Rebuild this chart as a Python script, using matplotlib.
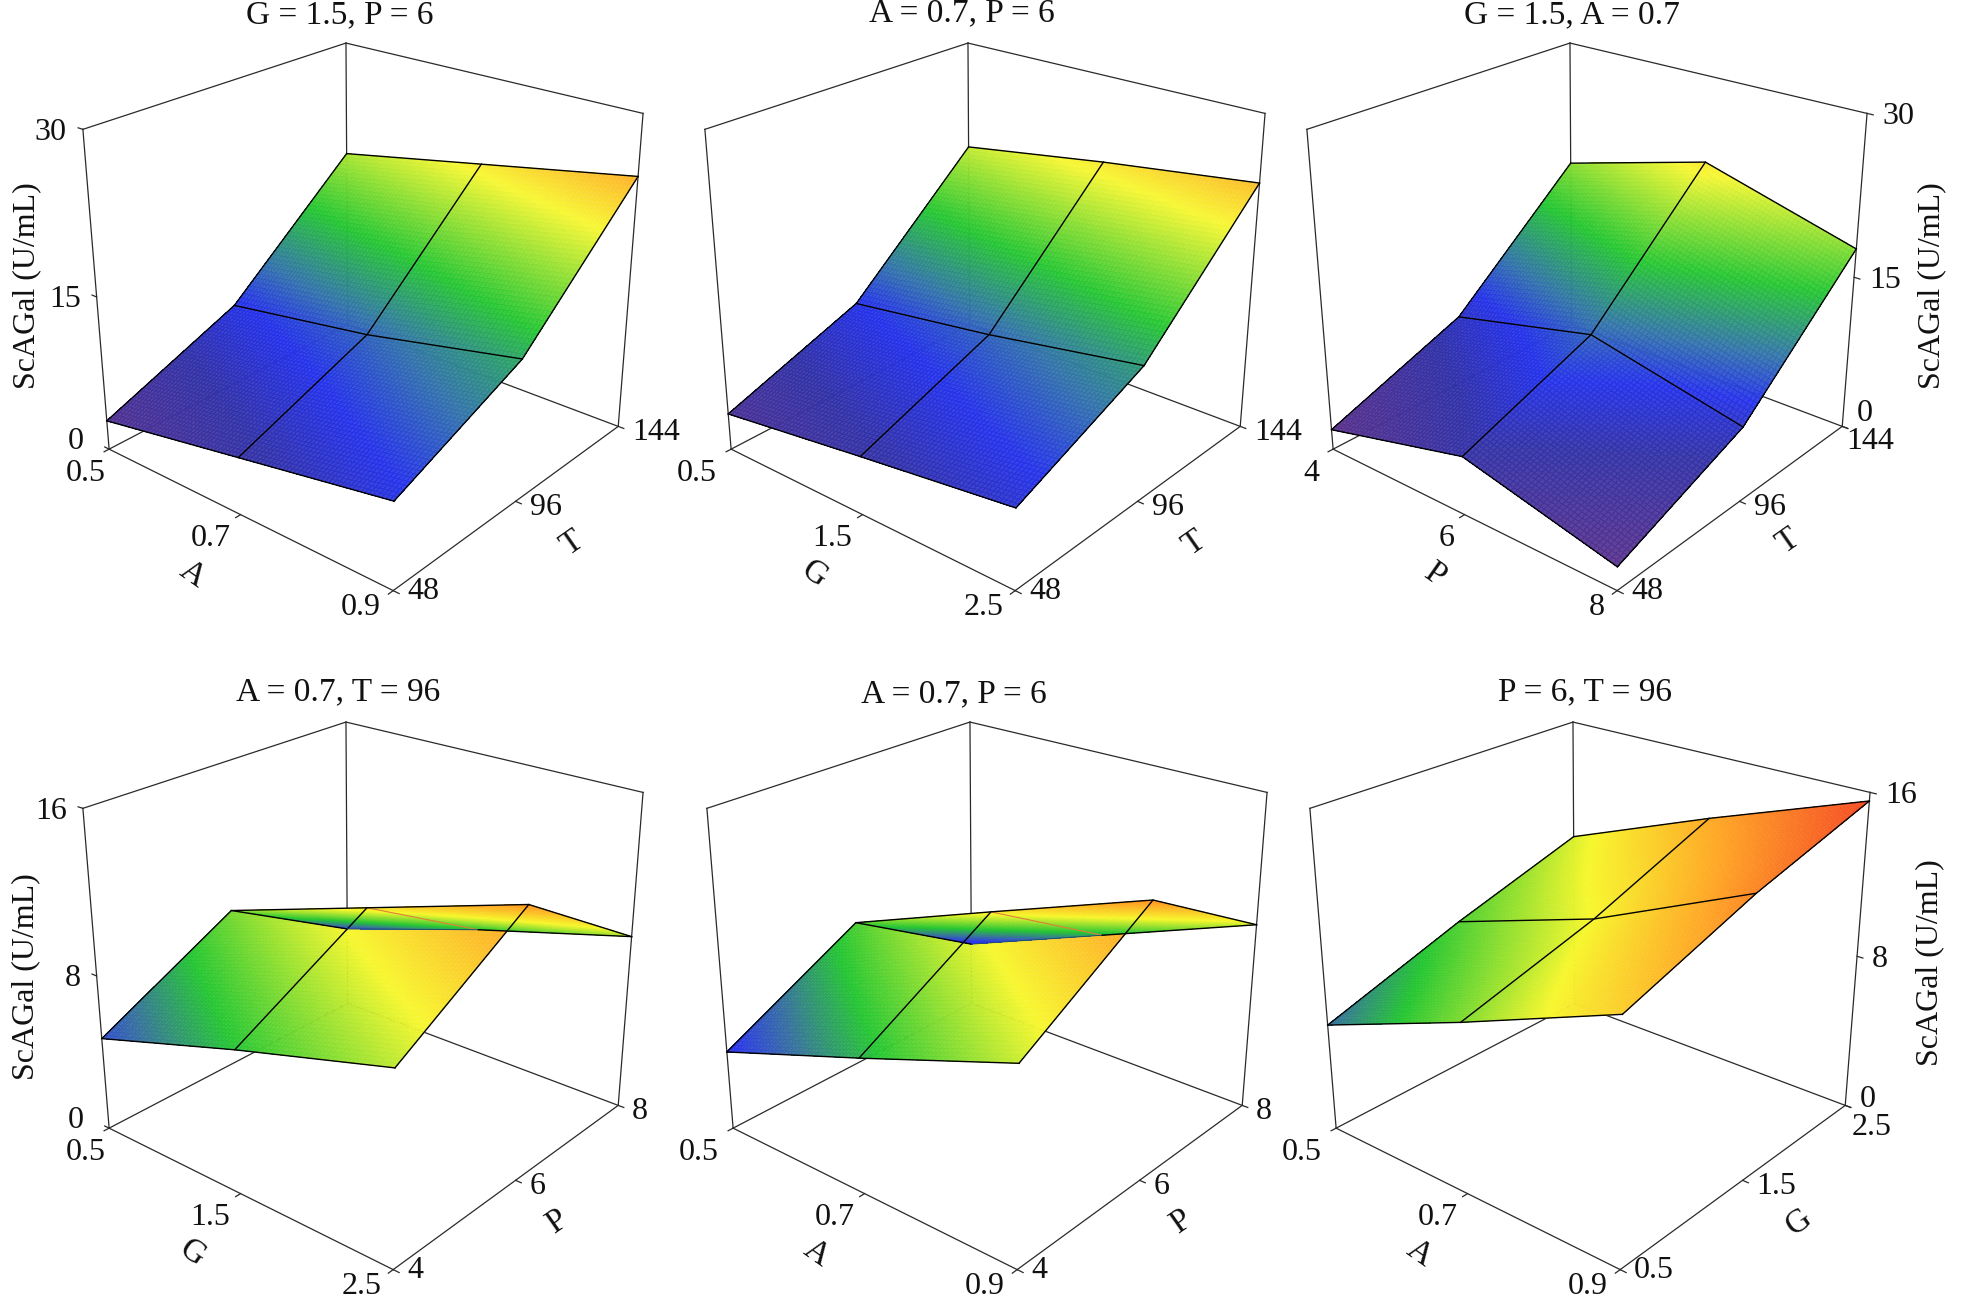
import numpy as np
import matplotlib
matplotlib.use("Agg")
import matplotlib.pyplot as plt
from matplotlib.colors import LinearSegmentedColormap, Normalize
from mpl_toolkits.mplot3d import proj3d

plt.rcParams['font.family'] = ['Liberation Serif', 'DejaVu Serif']

A_TICKS = [0.5, 0.7, 0.9]
G_TICKS = [0.5, 1.5, 2.5]
P_TICKS = [4, 6, 8]
T_TICKS = [48, 96, 144]
YLABEL = 'ScAGal (U/mL)'

# Surfaces: rows follow the first factor, columns follow the second factor
Z_A_T = [[2.9, 8.2, 18.8], [5.5, 10.4, 21.6], [8.1, 13.5, 24.4]]
Z_G_T = [[3.6, 8.4, 19.5], [5.6, 10.4, 21.8], [7.5, 12.9, 23.8]]
Z_P_T = [[2.0, 7.0, 17.8], [5.6, 10.4, 21.8], [2.2, 7.2, 17.7]]
Z_G_P = [[4.8, 8.4, 4.5], [7.2, 10.9, 6.9], [9.4, 13.4, 9.0]]
Z_A_P = [[4.1, 7.75, 3.6], [6.8, 10.7, 6.6], [9.6, 13.6, 9.6]]
Z_A_G = [[5.5, 7.8, 9.8], [8.5, 10.35, 12.8], [11.7, 13.9, 15.6]]

ZT_TOP = [0, 15, 30]
ZT_BOT = [0, 8, 16]

STOPS_TOP = [2.0, 6.0, 8.5, 11.0, 15.0, 21.0, 25.0, 30.0]
COLS_TOP = [(.36, .20, .55), (.20, .20, .66), (.15, .20, .92), (.20, .45, .68),
            (.15, .78, .20), (.97, .97, .20), (1.0, .65, .15), (.95, .25, .15)]
STOPS_BOT = [4.2, 5.6, 7.2, 10.3, 13.0, 15.8]
COLS_BOT = [(.17, .20, .95), (.22, .45, .62), (.15, .78, .20), (.97, .97, .18),
            (1.0, .65, .15), (.96, .28, .15)]


def make_cmap(stops, cols):
    lo, hi = stops[0], stops[-1]
    pos = [(s - lo) / (hi - lo) for s in stops]
    return LinearSegmentedColormap.from_list('c', list(zip(pos, cols)), N=512), Normalize(lo, hi)


W, H = 1961, 1297
fig = plt.figure(figsize=(W / 100, H / 100), dpi=100, facecolor='white')
SIZE = 620
FS_TICK, FS_TITLE, FS_LAB, FS_LET = 23, 24, 23, 24
LINE = '#2a2a2a'


def refine(Z, n):
    Z = np.asarray(Z, float)
    idx = np.linspace(0, 2, 2 * n + 1)
    t = np.array([np.interp(idx, [0, 1, 2], Z[:, j]) for j in range(3)]).T
    return np.array([np.interp(idx, [0, 1, 2], row) for row in t])


def panel(cx, cy, xt, yt, zt, Z, xname, yname, title, title_xy, stops, cols,
          zright=False, first_dx=-14, ylabel_xy=None, xl_off=(-48, 60), yl_off=(56, 42),
          last_off=(14, 6), zero_dy=-13, fold=False, zlabels=True):
    ax = fig.add_axes([(cx - .5135 * SIZE) / W, (H - cy - .5135 * SIZE) / H, SIZE / W, SIZE / H],
                      projection='3d', computed_zorder=False)
    ax.patch.set_alpha(0)
    ax.set_proj_type('persp', focal_length=0.46)
    ax.view_init(elev=25, azim=-50)
    ax.set_box_aspect((1, 1, .92))
    x0, x1 = xt[0], xt[-1]
    y0, y1 = yt[0], yt[-1]
    z0, z1 = zt[0], zt[-1]
    ax.set_xlim(x0, x1)
    ax.set_ylim(y0, y1)
    ax.set_zlim(z0, z1)
    ax.set_axis_off()

    edges = [((x0, x1), (y0, y0), (z0, z0)), ((x1, x1), (y0, y1), (z0, z0)),
             ((x0, x0), (y0, y1), (z0, z0)), ((x0, x1), (y1, y1), (z0, z0)),
             ((x0, x0), (y1, y1), (z0, z1)), ((x0, x0), (y0, y0), (z0, z1)),
             ((x1, x1), (y1, y1), (z0, z1)), ((x0, x0), (y0, y1), (z1, z1)),
             ((x0, x1), (y1, y1), (z1, z1))]
    for ex, ey, ez in edges:
        ax.plot(ex, ey, ez, color=LINE, lw=0.9, zorder=1)

    dx, dy = (x1 - x0) * .018, (y1 - y0) * .018
    for v in xt:
        ax.plot([v, v], [y0, y0 - dy], [z0, z0], color=LINE, lw=0.9, zorder=1, clip_on=False)
    for v in yt:
        ax.plot([x1, x1 + dx], [v, v], [z0, z0], color=LINE, lw=0.9, zorder=1, clip_on=False)
    if zlabels:
        for v in zt:
            if zright:
                ax.plot([x1, x1 + dx], [y1, y1], [v, v], color=LINE, lw=0.9, zorder=1)
            else:
                ax.plot([x0 - dx, x0], [y0, y0], [v, v], color=LINE, lw=0.9, zorder=1)

    n = 40
    Zf = refine(Z, n)
    xf = np.interp(np.linspace(0, 2, 2 * n + 1), [0, 1, 2], xt)
    yf = np.interp(np.linspace(0, 2, 2 * n + 1), [0, 1, 2], yt)
    X, Y = np.meshgrid(xf, yf, indexing='ij')
    cmap, norm = make_cmap(stops, cols)
    Zc = (Zf[:-1, :-1] + Zf[1:, :-1] + Zf[:-1, 1:] + Zf[1:, 1:]) / 4
    fc = cmap(norm(Zc))
    fc[..., 3] = 0.93
    # the far half of the surface is painted after the near half, as in the original renderer
    ax.plot_surface(X[:, :n + 1], Y[:, :n + 1], Zf[:, :n + 1], rstride=1, cstride=1,
                    facecolors=fc[:, :n], shade=False, linewidth=0, antialiased=False, zorder=2)
    ax.plot_surface(X[:, n:], Y[:, n:], Zf[:, n:], rstride=1, cstride=1,
                    facecolors=fc[:, n:], shade=False, linewidth=0, antialiased=False, zorder=2.1)

    Zg = np.asarray(Z, float)
    for i in range(3):
        if fold and i == 1:
            ax.plot([xt[1]] * 2, yt[:2], Zg[1, :2], color='black', lw=1.0, zorder=3)
            ax.plot([xt[1]] * 2, yt[1:], Zg[1, 1:], color='#e0803a', lw=0.8, zorder=3)
        else:
            ax.plot([xt[i]] * 3, yt, Zg[i, :], color='black', lw=1.0, zorder=3)
        if fold and i == 2:
            ax.plot(xt[:2], [yt[2]] * 2, Zg[:2, 2], color='#1f4f6a', lw=0.7, zorder=3)
            ax.plot(xt[1:], [yt[2]] * 2, Zg[1:, 2], color='black', lw=1.0, zorder=3)
        else:
            ax.plot(xt, [yt[i]] * 3, Zg[:, i], color='black', lw=1.0, zorder=3)

    M = ax.get_proj()

    def label(x, y, z, s, ox, oy, ha='center', rot=0, fs=FS_TICK):
        px, py, _ = proj3d.proj_transform(x, y, z, M)
        ax.annotate(s, xy=(px, py), xycoords='data', xytext=(ox, -oy), textcoords='offset pixels',
                    ha=ha, va='center', fontsize=fs, rotation=rot, annotation_clip=False,
                    color='#111111', rotation_mode='anchor')

    for k, v in enumerate(xt):
        ox = first_dx if k == 0 else (-10 if k == 1 else -12)
        label(v, y0, z0, f'{v:g}', ox, 24 if k < 2 else 17, ha='right')
    for k, v in enumerate(yt):
        ox, oy = last_off if k == 2 else (14, 6 if k else 1)
        label(x1, v, z0, f'{v:g}', ox, oy, ha='left')
    if zlabels:
        for k, v in enumerate(zt):
            if zright:
                oy = zero_dy if k == 0 else 3
                label(x1, y1, v, f'{v:g}', 15, oy, ha='left')
            else:
                oy = -8 if k == 0 else 3
                label(x0, y0, v, f'{v:g}', -16 if k else -25, oy, ha='right')
    label(xt[1], y0, z0, xname, xl_off[0], xl_off[1], rot=-35, fs=FS_LET)
    label(x1, yt[1], z0, yname, yl_off[0], yl_off[1], rot=35, fs=FS_LET)

    fig.text(title_xy[0] / W, 1 - title_xy[1] / H, title, ha='center', va='center',
             fontsize=FS_TITLE, color='#111111')
    if ylabel_xy:
        fig.text(ylabel_xy[0] / W, 1 - ylabel_xy[1] / H, YLABEL, ha='center', va='center',
                 rotation=90, fontsize=FS_LAB, color='#111111')


CY_TOP, CY_BOT = 287, 966
panel(367, CY_TOP, A_TICKS, T_TICKS, ZT_TOP, Z_A_T, 'A', 'T', 'G = 1.5, P = 6', (340, 15),
      STOPS_TOP, COLS_TOP, first_dx=-3, ylabel_xy=(27, 286))
panel(989, CY_TOP, G_TICKS, T_TICKS, ZT_TOP, Z_G_T, 'G', 'T', 'A = 0.7, P = 6', (962, 13),
      STOPS_TOP, COLS_TOP, zlabels=False)
panel(1591, CY_TOP, P_TICKS, T_TICKS, ZT_TOP, Z_P_T, 'P', 'T', 'G = 1.5, A = 0.7', (1572, 15),
      STOPS_TOP, COLS_TOP, zright=True, ylabel_xy=(1932, 286), xl_off=(-30, 60), yl_off=(48, 40),
      last_off=(4, 15), zero_dy=-13)
panel(367, CY_BOT, G_TICKS, P_TICKS, ZT_BOT, Z_G_P, 'G', 'P', 'A = 0.7, T = 96', (338, 692),
      STOPS_BOT, COLS_BOT, first_dx=-3, ylabel_xy=(26, 977), yl_off=(41, 42), fold=True)
panel(991, CY_BOT, A_TICKS, P_TICKS, ZT_BOT, Z_A_P, 'A', 'P', 'A = 0.7, P = 6', (954, 694),
      STOPS_BOT, COLS_BOT, yl_off=(41, 42), fold=True, zlabels=False)
panel(1594, CY_BOT, A_TICKS, G_TICKS, ZT_BOT, Z_A_G, 'A', 'G', 'P = 6, T = 96', (1585, 692),
      STOPS_BOT, COLS_BOT, zright=True, ylabel_xy=(1930, 963), yl_off=(56, 42),
      last_off=(6, 22), zero_dy=-6)

fig.savefig('out.png', dpi=100, facecolor='white')
